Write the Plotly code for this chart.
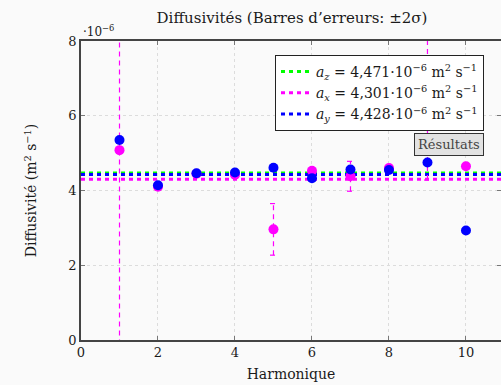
import plotly.graph_objects as go

SERIF = "DejaVu Serif"
FG = "#1a1a1a"
BG = "#fafafa"

harmoniques = [1, 2, 3, 4, 5, 6, 7, 8, 9, 10]
diff_x = [5.08, 4.10, 4.45, 4.42, 2.96, 4.53, 4.38, 4.60, 6.20, 4.65]
err_x = [5.20, 0.0, 0.0, 0.0, 0.69, 0.0, 0.40, 0.0, 1.92, 0.0]
diff_y = [5.35, 4.14, 4.46, 4.48, 4.61, 4.33, 4.56, 4.55, 4.75, 2.93]

moyennes = {
    "z": (4.471, "#00ff00"),
    "x": (4.301, "#ff00ff"),
    "y": (4.428, "#0000ff"),
}

X_MAX = 10.91

fig = go.Figure()

# lignes de moyenne
for comp, (val, color) in moyennes.items():
    label = (
        f"<i>a</i><sub><i>{comp}</i></sub> = {str(val).replace('.', ',')}"
        "·10<sup>−6</sup> m<sup>2</sup> s<sup>−1</sup>"
    )
    fig.add_trace(
        go.Scatter(
            x=[0, X_MAX],
            y=[val, val],
            mode="lines",
            name=label,
            line=dict(color=color, width=3, dash="4px,4px"),
            hoverinfo="skip",
        )
    )

# barres d'erreurs (pointillés) pour x
ex, ey = [], []
cap = 0.09
for h, v, e in zip(harmoniques, diff_x, err_x):
    if e == 0:
        continue
    ex += [h, h, None, h - cap, h + cap, None, h - cap, h + cap, None]
    ey += [v - e, v + e, None, v + e, v + e, None, v - e, v - e, None]
fig.add_trace(
    go.Scatter(
        x=ex,
        y=ey,
        mode="lines",
        line=dict(color="#ff00ff", width=1.2, dash="5px,4px"),
        showlegend=False,
        hoverinfo="skip",
    )
)

fig.add_trace(
    go.Scatter(
        x=harmoniques,
        y=diff_x,
        mode="markers",
        marker=dict(color="#ff00ff", size=10, line=dict(width=0)),
        showlegend=False,
    )
)
fig.add_trace(
    go.Scatter(
        x=harmoniques,
        y=diff_y,
        mode="markers",
        marker=dict(color="#0000ff", size=10, line=dict(width=0)),
        showlegend=False,
    )
)

fig.add_annotation(
    text="·10<sup>−6</sup>",
    xref="paper",
    yref="paper",
    x=0.0,
    y=1.0,
    xanchor="left",
    yanchor="bottom",
    showarrow=False,
    font=dict(family=SERIF, size=12, color=FG),
)
fig.add_annotation(
    text="Résultats",
    xref="paper",
    yref="paper",
    x=(484 - 81) / 420,
    y=(340 - 156) / 299,
    xanchor="right",
    yanchor="bottom",
    showarrow=False,
    bgcolor="#e2e2e2",
    bordercolor="#333333",
    borderwidth=1,
    borderpad=3,
    font=dict(family=SERIF, size=13, color="#444444"),
)

fig.update_layout(
    width=501,
    height=385,
    title=dict(
        text="Diffusivités (Barres d’erreurs: ±2σ)",
        x=(292 / 501),
        xanchor="center",
        y=0.955,
        yanchor="middle",
        font=dict(family=SERIF, size=15, color=FG),
    ),
    font=dict(family=SERIF, size=13, color=FG),
    plot_bgcolor=BG,
    paper_bgcolor=BG,
    margin=dict(l=81, r=0, t=41, b=45),
    legend=dict(
        x=(275 - 81) / 420,
        y=(340 - 55) / 299,
        xanchor="left",
        yanchor="top",
        bgcolor="white",
        bordercolor="#222222",
        borderwidth=1,
        font=dict(family=SERIF, size=14, color=FG),
        itemwidth=30,
        tracegroupgap=0,
    ),
    xaxis=dict(
        title=dict(text="Harmonique", font=dict(size=14), standoff=10),
        range=[0, X_MAX],
        tickvals=[0, 2, 4, 6, 8, 10],
        automargin=False,
    ),
    yaxis=dict(
        title=dict(
            text="Diffusivité (m<sup>2</sup> s<sup>−1</sup>)",
            font=dict(size=14),
            standoff=28,
        ),
        range=[0, 8],
        tickvals=[0, 2, 4, 6, 8],
        automargin=False,
    ),
)

fig.update_xaxes(
    showgrid=True,
    gridcolor="#dcdcdc",
    griddash="dot",
    gridwidth=1,
    zeroline=False,
    showline=True,
    linecolor="#444444",
    linewidth=1.5,
    mirror="ticks",
    ticks="inside",
    ticklen=4,
    tickcolor="#777777",
)
fig.update_yaxes(
    showgrid=True,
    gridcolor="#dcdcdc",
    griddash="dot",
    gridwidth=1,
    zeroline=False,
    showline=True,
    linecolor="#444444",
    linewidth=1.5,
    mirror="ticks",
    ticks="inside",
    ticklen=4,
    tickcolor="#777777",
)

# la page a une marge de 8px par défaut : on la retire
fig.write_html(
    "out.html",
    config={"displayModeBar": False},
    post_script="document.body.style.margin='0'; document.body.style.background='#fafafa';",
)
